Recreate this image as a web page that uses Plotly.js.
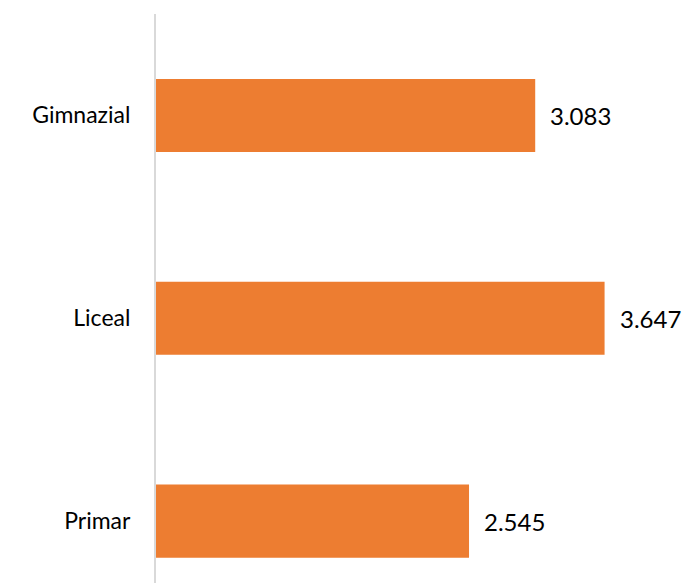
<!DOCTYPE html>
<html><head><meta charset="utf-8">
<script src="https://cdn.plot.ly/plotly-3.0.1.min.js"></script>
<style>body{margin:0;padding:0;background:#fff}#chart{width:688px;height:583px}</style>
</head><body><div id="chart"></div>
<script>
const categories = ["Primar", "Liceal", "Gimnazial"];
const values = [2.545, 3.647, 3.083];
const valueLabels = ["2.545", "3.647", "3.083"];

const trace = {
  type: 'bar', orientation: 'h',
  y: categories, x: values,
  marker: {color: '#ED7D31'},
  hoverinfo: 'none'
};
const annotations = categories.map((c, i) => ({
  x: values[i], y: c, xref: 'x', yref: 'y',
  text: valueLabels[i], showarrow: false,
  xanchor: 'left', yanchor: 'middle', xshift: 13,
  font: {family: 'Lato, "Open Sans", sans-serif', size: 24, color: '#000'}
}));
const layout = {
  width: 688, height: 583,
  margin: {l: 156, r: 40, t: 13.5, b: 0},
  paper_bgcolor: '#fff', plot_bgcolor: '#fff',
  bargap: 0.64,
  showlegend: false,
  xaxis: {range: [0, 4], showgrid: false, zeroline: false, showticklabels: false, showline: false, fixedrange: true},
  yaxis: {type: 'category', categoryorder: 'array', categoryarray: categories,
    range: [-0.305, 2.5], showgrid: false, zeroline: false,
    showline: true, linecolor: '#d9d9d9', linewidth: 2,
    ticks: '', ticklabelstandoff: 19,
    tickfont: {family: 'Lato, "Open Sans", sans-serif', size: 23, color: '#000'}},
  annotations: annotations
};
Plotly.newPlot('chart', [trace], layout, {displayModeBar: false, staticPlot: true});
</script></body></html>
